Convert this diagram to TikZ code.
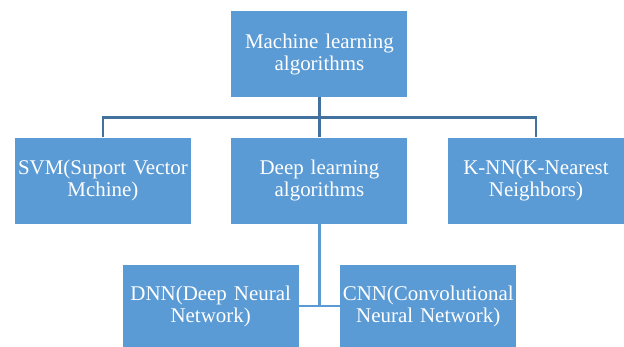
\documentclass[tikz,border=0pt]{standalone}
\usepackage{fontspec}
\setmainfont{Liberation Serif}
\usepackage{xcolor}
\usetikzlibrary{positioning,calc}

\definecolor{boxblue}{HTML}{5B9BD5}
\definecolor{linkdark}{HTML}{41719C}

\begin{document}
\begin{tikzpicture}[
  box/.style={fill=boxblue, minimum width=132pt, minimum height=64.5pt,
              text width=130pt, align=center, inner sep=1pt, text=white,
              font=\fontsize{15.7}{16.5}\selectfont},
  link/.style={line width=2pt, draw=linkdark},
  sublink/.style={line width=2pt, draw=boxblue},
  node distance=30pt
]
  \useasboundingbox (-239.6pt,-219pt) rectangle (228.4pt,40.5pt);

  \node[box] (ml) {Machine learning\\algorithms};

  \node[box, below=of ml] (deep) {Deep learning\\algorithms};
  \node[box, left=of deep] (svm) {SVM(Suport Vector\\Mchine)};
  \node[box, right=of deep] (knn) {K-NN(K-Nearest\\Neighbors)};

  \node[box, minimum height=61.5pt, below left=30.75pt and 15.4pt of deep.south,
        anchor=north east] (dnn) {DNN(Deep Neural\\Network)};
  \node[box, minimum height=61.5pt, below right=30.75pt and 15.4pt of deep.south,
        anchor=north west] (cnn) {CNN(Convolutional\\Neural Network)};

  % tree links
  \draw[link] (ml.south) -- ++(0,-15pt) coordinate (bar) -| (svm.north);
  \draw[link] (bar) -| (knn.north);
  \draw[link] (bar) -- (deep.north);

  \draw[sublink] (deep.south) -- (deep.south |- dnn.east);
  \draw[sublink] (dnn.east) -- (cnn.west);
\end{tikzpicture}
\end{document}
